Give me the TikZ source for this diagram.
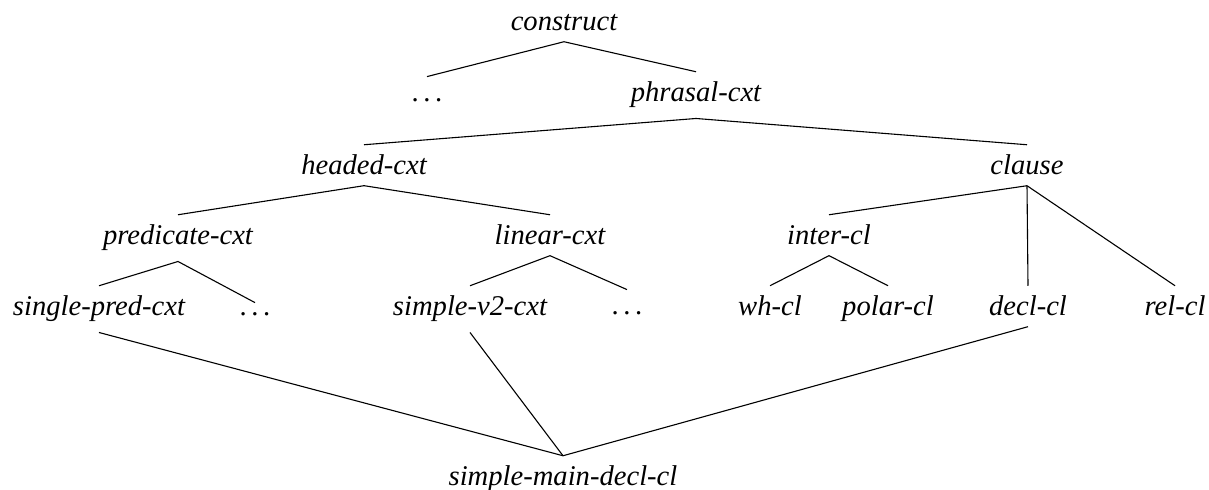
\documentclass[tikz,border=0pt]{standalone}
\usepackage{fontspec}
\setmainfont{Liberation Serif}
\newcommand{\mydots}{.\kern0.16em.\kern0.16em.}
\begin{document}
\begin{tikzpicture}[x=0.5pt,y=-0.5pt,
  lbl/.style={anchor=base,inner xsep=0pt,inner ysep=5pt,font=\fontsize{14.3}{17}\selectfont\itshape},
  dots/.style={anchor=base,inner xsep=0pt,inner ysep=5pt,font=\fontsize{14.3}{17}\selectfont},
  tall/.style={text height=7.5pt},
  edge/.style={draw,line width=0.55pt}]
\useasboundingbox (0,0) rectangle (1209,490);
% row 0
\node[lbl] (construct) at (564,31) {construct};
% row 1
\node[dots,tall] (d1) at (427,102) {\mydots};
\node[lbl] (phrasal) at (696,102) {phrasal-cxt};
% row 2
\node[lbl] (headed) at (364,175) {headed-cxt};
\node[lbl] (clause) at (1027,175) {clause};
% row 3
\node[lbl] (predicate) at (178,245) {predicate-cxt};
\node[lbl] (linear) at (550,245) {linear-cxt};
\node[lbl] (inter) at (829,245) {inter-cl};
% row 4
\node[lbl] (singlepred) at (99,316) {single-pred-cxt};
\node[dots] (d2) at (255,316) {\mydots};
\node[lbl] (simplev2) at (470,316) {simple-v2-cxt};
\node[dots,tall] (d3) at (627,315) {\mydots};
\node[lbl] (wh) at (770,316) {wh-cl};
\node[lbl] (polar) at (888,316) {polar-cl};
\node[lbl] (decl) at (1028,316) {decl-cl};
\node[lbl] (rel) at (1175,316) {rel-cl};
% row 5
\node[lbl] (smd) at (563,486) {simple-main-decl-cl};
% edges
\draw[edge] (d1.north) -- (construct.south) -- (phrasal.north);
\draw[edge] (headed.north) -- (phrasal.south) -- (clause.north);
\draw[edge] (predicate.north) -- (headed.south) -- (linear.north);
\draw[edge] (clause.south) -- (inter.north);
\draw[edge] (clause.south) -- (decl.north);
\draw[edge] (clause.south) -- (rel.north);
\draw[edge] (singlepred.north) -- (predicate.south) -- (d2.north);
\draw[edge] (simplev2.north) -- (linear.south) -- (d3.north);
\draw[edge] (wh.north) -- (inter.south) -- (polar.north);
\draw[edge] (singlepred.south) -- (smd.north);
\draw[edge] (simplev2.south) -- (smd.north);
\draw[edge] (decl.south) -- (smd.north);
\end{tikzpicture}
\end{document}
